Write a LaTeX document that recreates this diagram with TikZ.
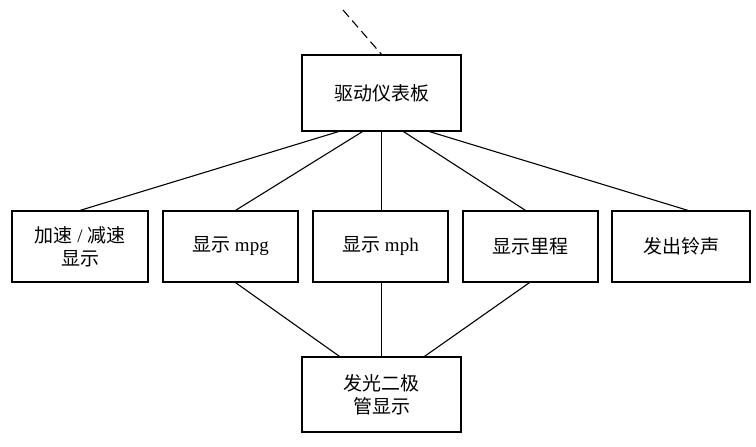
\documentclass[tikz,border=0pt]{standalone}
\usepackage{fontspec}
\setmainfont{Liberation Serif}
\newfontfamily\cjk{Noto Sans CJK SC}
\begin{document}
\begin{tikzpicture}[x=1pt,y=-1pt,
 box/.style={draw,line width=1.2pt,inner sep=0pt,align=center,font=\fontsize{19}{23}\selectfont},
 ln/.style={line width=1.1pt}]
\useasboundingbox (0,0) rectangle (756,447);
\node[box,minimum width=159pt,minimum height=76pt] (top) at (381.5,93) {{\cjk 驱动仪表板}};
\node[box,minimum width=136pt,minimum height=71pt] (b1) at (80,246.5) {{\cjk 加速} / {\cjk 减速}\\{\cjk 显示}};
\node[box,minimum width=135pt,minimum height=71pt] (b2) at (230.5,246.5) {{\cjk 显示} mpg};
\node[box,minimum width=135pt,minimum height=71pt] (b3) at (380.5,246.5) {{\cjk 显示} mph};
\node[box,minimum width=135pt,minimum height=71pt] (b4) at (530.5,246.5) {{\cjk 显示里程}};
\node[box,minimum width=138pt,minimum height=71pt] (b5) at (681,246.5) {{\cjk 发出铃声}};
\node[box,minimum width=159pt,minimum height=75pt] (bot) at (381.5,394.5) {{\cjk 发光二极}\\{\cjk 管显示}};
\coordinate (d) at (343,10);
\draw[ln,dash pattern=on 9pt off 5pt] (d) -- (top.north);
\draw[ln] ([xshift=-43pt]top.south) -- (b1.north);
\draw[ln] ([xshift=-19pt]top.south) -- ([xshift=5pt]b2.north);
\draw[ln] (top.south) -- (b3.north-|top.south);
\draw[ln] ([xshift=22pt]top.south) -- ([xshift=-5pt]b4.north);
\draw[ln] ([xshift=48pt]top.south) -- ([xshift=7pt]b5.north);
\draw[ln] ([xshift=5pt]b2.south) -- ([xshift=-42pt]bot.north);
\draw[ln] (b3.south-|bot.north) -- (bot.north);
\draw[ln] ([xshift=-1pt]b4.south) -- ([xshift=43pt]bot.north);
\end{tikzpicture}
\end{document}
